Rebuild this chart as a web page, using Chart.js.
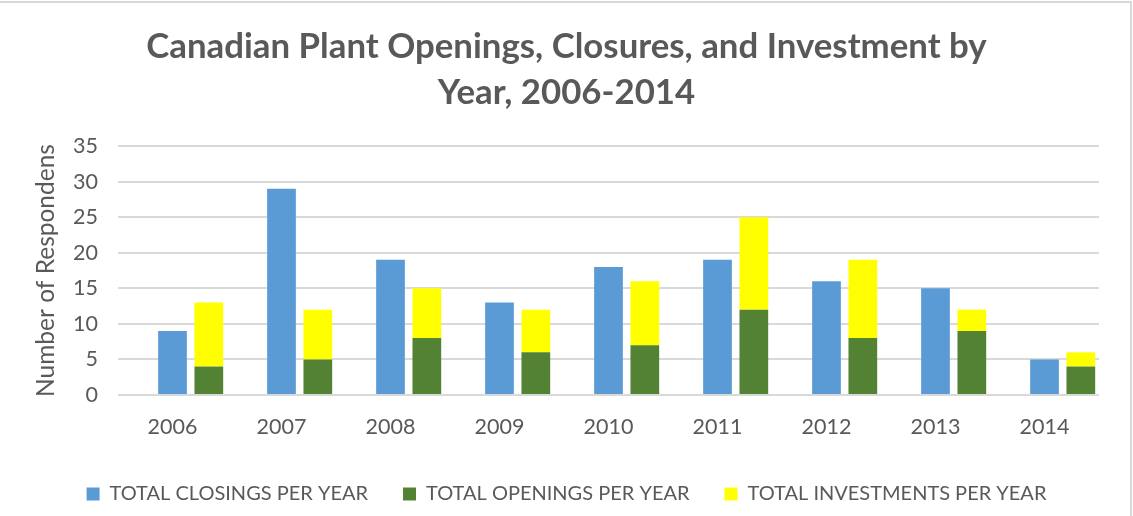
<!DOCTYPE html>
<html>
<head>
<meta charset="utf-8">
<script src="https://cdn.jsdelivr.net/npm/chart.js@4"></script>
<style>
  html, body { margin: 0; padding: 0; background: #fff; }
  #wrap { position: relative; width: 1133px; height: 516px; }
  #frame { position: absolute; left: 0; top: 1px; width: 1130px; height: 520px; border-top: 2px solid #d9d9d9; border-right: 2px solid #d9d9d9; pointer-events: none; }
  canvas { position: absolute; left: 0; top: 0; }
</style>
</head>
<body>
<div id="wrap">
  <canvas id="c" width="1133" height="516"></canvas>
  <div id="frame"></div>
</div>
<script>
const years = ["2006","2007","2008","2009","2010","2011","2012","2013","2014"];
const closings = [9, 29, 19, 13, 18, 19, 16, 15, 5];
const openings = [4, 5, 8, 6, 7, 12, 8, 9, 4];
const investments = [9, 7, 7, 6, 9, 13, 11, 3, 2];
const yTicks = [0, 5, 10, 15, 20, 25, 30, 35];
const titleLines = ["Canadian Plant Openings, Closures, and Investment by", "Year, 2006-2014"];
const yTitle = "Number of Respondens";

const FONT = "Lato";
const TXT = "#595959";

new Chart(document.getElementById("c"), {
  type: "bar",
  data: {
    labels: years,
    datasets: [
      { label: "", data: years.map(() => null), stack: "z", backgroundColor: "rgba(0,0,0,0)" },
      { label: "TOTAL CLOSINGS PER YEAR", data: closings, stack: "a", backgroundColor: "#5B9BD5" },
      { label: "TOTAL OPENINGS PER YEAR", data: openings, stack: "b", backgroundColor: "#548235" },
      { label: "TOTAL INVESTMENTS PER YEAR", data: investments, stack: "b", backgroundColor: "#FFFF00" }
    ]
  },
  options: {
    responsive: false,
    animation: false,
    devicePixelRatio: 1,
    categoryPercentage: 1.0,
    barPercentage: 0.79,
    layout: { padding: { left: 0, right: 0, top: 0, bottom: 2 } },
    plugins: {
      tooltip: { enabled: false },
      title: {
        display: true,
        text: titleLines,
        color: TXT,
        font: { family: FONT, size: 34.8, weight: "bold", lineHeight: 46 / 34.8 },
        padding: { top: 24, bottom: 30 }
      },
      legend: {
        position: "bottom",
        labels: {
          filter: (item) => item.text !== "",
          boxWidth: 13,
          boxHeight: 13,
          color: TXT,
          font: { family: FONT, size: 20 },
          padding: 35
        }
      }
    },
    scales: {
      x: {
        stacked: true,
        grid: { display: false, drawTicks: false },
        border: { display: false },
        ticks: { color: TXT, font: { family: FONT, size: 21.5 }, padding: 19 },
        afterFit: (s) => { s.height = 54; }
      },
      y: {
        stacked: true,
        min: 0,
        max: 35,
        afterBuildTicks: (s) => { s.ticks = yTicks.map(v => ({ value: v })); },
        grid: { color: "#d9d9d9", lineWidth: 2, drawTicks: false },
        border: { display: false },
        ticks: { color: TXT, font: { family: FONT, size: 21.5 }, padding: 20 },
        title: { display: true, text: yTitle, color: TXT, font: { family: FONT, size: 24.5 }, padding: { top: 31, bottom: 4 } },
        afterFit: (s) => { s.width = 118; }
      },
      yr: {
        position: "right",
        min: 0,
        max: 35,
        grid: { drawOnChartArea: false, drawTicks: false },
        border: { display: false },
        ticks: { display: false },
        afterFit: (s) => { s.width = 34; }
      }
    }
  }
});
</script>
</body>
</html>
